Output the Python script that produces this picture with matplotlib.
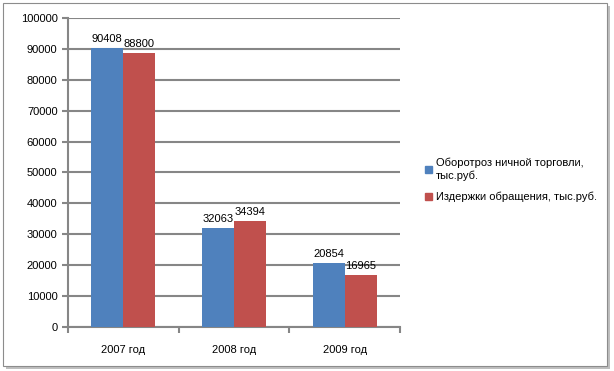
import matplotlib
matplotlib.use('Agg')
import matplotlib.pyplot as plt
from matplotlib.patches import Rectangle, Patch
import numpy as np

years = ['2007 год', '2008 год', '2009 год']
turnover = [90408, 32063, 20854]
costs = [88800, 34394, 16965]
series_names = ['Оборотроз ничной торговли,\nтыс.руб.', 'Издержки обращения, тыс.руб.']

blue = '#4F81BD'
red = '#C0504D'
grid_c = '#868686'

plt.rcParams['font.family'] = ['Liberation Sans', 'DejaVu Sans']

fig = plt.figure(figsize=(6.14, 3.71), dpi=100)
W, H = 614, 371

# outer frame with shadow
fig.patches.append(Rectangle((6 / W, 1 - 369 / H), 604 / W, 363 / H, transform=fig.transFigure,
                             facecolor='#bfbfbf', edgecolor='none', zorder=0))
fig.patches.append(Rectangle((3 / W, 1 - 366 / H), 604 / W, 363 / H, transform=fig.transFigure,
                             facecolor='white', edgecolor='#8c8c8c', linewidth=0.8, zorder=1))

ax = fig.add_axes([68 / W, 1 - 327 / H, 332 / W, 309 / H])
ax.set_zorder(2)
ax.patch.set_alpha(0)

x = np.arange(len(years))
bw = 0.29
b1 = ax.bar(x - bw / 2, turnover, bw, color=blue, zorder=3)
b2 = ax.bar(x + bw / 2, costs, bw, color=red, zorder=3)
for bars, vals in ((b1, turnover), (b2, costs)):
    for r, v in zip(bars, vals):
        ax.text(r.get_x() + r.get_width() / 2, v + 1200, str(v), ha='center', va='bottom',
                fontsize=8, zorder=4)

ax.set_xlim(-0.5, 2.5)
ax.set_ylim(0, 100000)
ax.set_yticks(np.arange(0, 100001, 10000))
ax.yaxis.grid(True, color=grid_c, linewidth=1.5)
ax.set_axisbelow(True)
ax.set_xticks(x)
ax.set_xticklabels(years)
ax.set_xticks([-0.5, 0.5, 1.5, 2.5], minor=True)
ax.tick_params(axis='x', which='major', length=0, pad=13, labelsize=8)
ax.tick_params(axis='x', which='minor', length=4, color=grid_c, width=1.5)
ax.tick_params(axis='y', length=4, color=grid_c, width=1.5, labelsize=8)
for s in ('top', 'right'):
    ax.spines[s].set_visible(False)
for s in ('left', 'bottom'):
    ax.spines[s].set_color(grid_c)
    ax.spines[s].set_linewidth(1.5)

handles = [Patch(color=blue), Patch(color=red)]
fig.legend(handles, series_names, loc='upper left', bbox_to_anchor=(415 / W, 1 - 148 / H),
           frameon=False, fontsize=8, handlelength=0.6, handleheight=0.6,
           handletextpad=0.4, labelspacing=1.0)

fig.savefig('out.png', dpi=100)
